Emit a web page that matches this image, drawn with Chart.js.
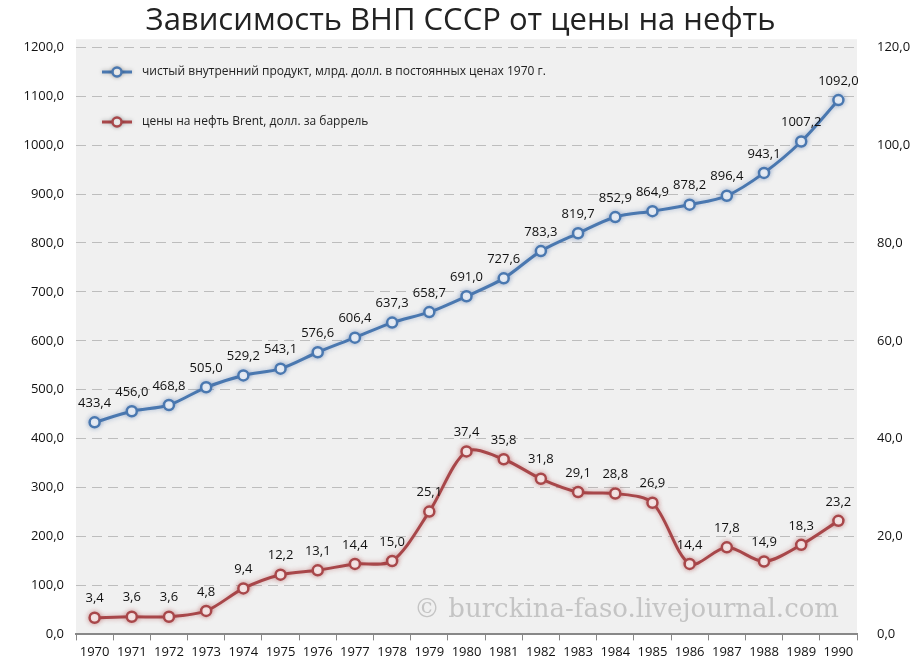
<!DOCTYPE html>
<html>
<head>
<meta charset="utf-8">
<script src="https://cdn.jsdelivr.net/npm/chart.js@4"></script>
<style>
  html, body { margin: 0; padding: 0; background: #fff; }
  #wrap { width: 921px; height: 671px; }
</style>
</head>
<body>
<div id="wrap"><canvas id="myChart"></canvas></div>
<script>
// data
const years = ['1970','1971','1972','1973','1974','1975','1976','1977','1978','1979','1980',
               '1981','1982','1983','1984','1985','1986','1987','1988','1989','1990'];
const gnpValues = [433.4, 456.0, 468.8, 505.0, 529.2, 543.1, 576.6, 606.4, 637.3, 658.7, 691.0,
                   727.6, 783.3, 819.7, 852.9, 864.9, 878.2, 896.4, 943.1, 1007.2, 1092.0];
const oilValues = [3.4, 3.6, 3.6, 4.8, 9.4, 12.2, 13.1, 14.4, 15.0, 25.1, 37.4,
                   35.8, 31.8, 29.1, 28.8, 26.9, 14.4, 17.8, 14.9, 18.3, 23.2];
const seriesNames = ['чистый внутренний продукт, млрд. долл. в постоянных ценах 1970 г.',
                     'цены на нефть Brent, долл. за баррель'];

const blue = '#4a78b0';
const red = '#a8474a';
const fmt = v => v.toFixed(1).replace('.', ',');

// grey plot background, watermark and legend inside the plot
const decor = {
  id: 'decor',
  beforeDraw(chart) {
    const { ctx, chartArea: a } = chart;
    ctx.save();
    ctx.fillStyle = '#f0f0f0';
    ctx.fillRect(a.left, a.top - 8, a.right - a.left, a.bottom - a.top + 8);
    ctx.restore();
  },
  beforeDatasetsDraw(chart) {
    const { ctx, chartArea: a } = chart;
    ctx.save();
    ctx.font = '26px "DejaVu Serif", serif';
    ctx.fillStyle = '#c4c4c4';
    ctx.textAlign = 'right';
    ctx.textBaseline = 'middle';
    ctx.fillText('© burckina-faso.livejournal.com', a.right - 18, a.bottom - 24);

    // legend
    const items = [[blue, seriesNames[0], 72], [red, seriesNames[1], 122]];
    items.forEach(([c, txt, y]) => {
      const x = 102;
      ctx.shadowColor = 'rgba(0,0,0,0.25)';
      ctx.shadowBlur = 4;
      ctx.strokeStyle = c;
      ctx.lineWidth = 3;
      ctx.beginPath();
      ctx.moveTo(x, y); ctx.lineTo(x + 30, y);
      ctx.stroke();
      ctx.beginPath();
      ctx.arc(x + 15, y, 4.5, 0, Math.PI * 2);
      ctx.fillStyle = '#fff';
      ctx.fill();
      ctx.lineWidth = 2.5;
      ctx.stroke();
      ctx.shadowBlur = 0;
      ctx.shadowColor = 'transparent';
      ctx.fillStyle = '#222';
      ctx.font = '12px "Open Sans", sans-serif';
      ctx.textAlign = 'left';
      ctx.fillText(txt, x + 40, y);
    });
    ctx.restore();
  },
  beforeDatasetDraw(chart, args) {
    const ctx = chart.ctx;
    ctx.save();
    ctx.shadowColor = args.index === 0 ? 'rgba(70,110,170,0.45)' : 'rgba(170,60,60,0.45)';
    ctx.shadowBlur = 5;
  },
  afterDatasetDraw(chart) {
    chart.ctx.restore();
  },
  afterDatasetsDraw(chart) {
    const ctx = chart.ctx;
    ctx.save();
    ctx.font = '13px "Open Sans", sans-serif';
    ctx.fillStyle = '#111';
    ctx.textAlign = 'center';
    ctx.textBaseline = 'middle';
    chart.data.datasets.forEach((ds, i) => {
      chart.getDatasetMeta(i).data.forEach((pt, j) => {
        ctx.fillText(fmt(ds.data[j]), pt.x, pt.y - 19);
      });
    });
    ctx.restore();
  }
};

const data = {
  labels: years,
  datasets: [{
    label: seriesNames[0],
    data: gnpValues,
    yAxisID: 'y',
    borderColor: blue,
    borderWidth: 3,
    pointBackgroundColor: '#fff',
    pointBorderColor: blue,
    pointBorderWidth: 2.5,
    pointRadius: 5,
    tension: 0.3
  }, {
    label: seriesNames[1],
    data: oilValues,
    yAxisID: 'y1',
    borderColor: red,
    borderWidth: 3,
    pointBackgroundColor: '#fff',
    pointBorderColor: red,
    pointBorderWidth: 2.5,
    pointRadius: 5,
    tension: 0.3
  }]
};

const tickFont = { family: '"Open Sans", sans-serif', size: 13 };

var ctx = document.getElementById('myChart');
var myChart = new Chart(ctx, {
  type: 'line',
  data: data,
  plugins: [decor],
  options: {
    responsive: true,
    maintainAspectRatio: false,
    animation: false,
    layout: { padding: { top: 0, bottom: 7 } },
    plugins: {
      legend: { display: false },
      tooltip: { enabled: false },
      title: {
        display: true,
        text: 'Зависимость ВНП СССР от цены на нефть',
        color: '#222',
        font: { family: '"Open Sans", sans-serif', size: 31, weight: 'normal' },
        padding: { top: 3, bottom: 7 }
      }
    },
    scales: {
      x: {
        offset: true,
        grid: { display: true, drawOnChartArea: false, drawTicks: true, tickLength: 6, offset: true, color: '#888' },
        border: { color: '#888', width: 2 },
        ticks: { color: '#111', font: tickFont, padding: 4, maxRotation: 0, autoSkip: false }
      },
      y: {
        position: 'left',
        min: 0, max: 1200,
        afterFit(s) { s.width = 76; },
        grid: { color: '#bdbdbd', drawTicks: false },
        border: { display: false, dash: [10, 6] },
        ticks: { stepSize: 100, color: '#111', font: tickFont, padding: 12, callback: v => fmt(v) }
      },
      y1: {
        position: 'right',
        min: 0, max: 120,
        afterFit(s) { s.width = 64; },
        grid: { display: false },
        border: { display: false },
        ticks: { stepSize: 20, color: '#111', font: tickFont, padding: 12, callback: v => fmt(v) }
      }
    }
  }
});
</script>
</body>
</html>
